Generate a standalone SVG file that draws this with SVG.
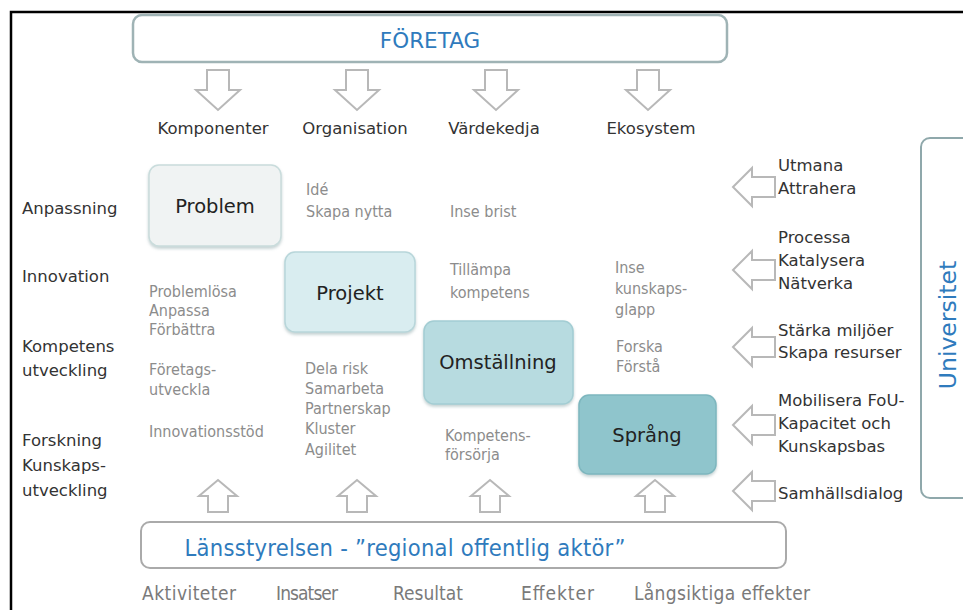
<svg xmlns="http://www.w3.org/2000/svg" width="963" height="610" viewBox="0 0 963 610">
<style>
.lbl{font-family:"DejaVu Sans",Verdana,sans-serif;fill:#333;font-size:16.5px}
.gr{font-family:"DejaVu Sans Condensed","DejaVu Sans",sans-serif;fill:#8c8c8c;font-size:16px}
.bt{font-family:"DejaVu Sans Condensed","DejaVu Sans",sans-serif;fill:#7a7a7a;font-size:19px}
.nd{font-family:"DejaVu Sans",Verdana,sans-serif;fill:#222;font-size:19.5px;text-anchor:middle}
.blue{font-family:"DejaVu Sans",Verdana,sans-serif;fill:#2f7bbd;text-anchor:middle}
.blc{font-family:"DejaVu Sans Condensed","DejaVu Sans",sans-serif;fill:#2f7bbd;text-anchor:middle}
.arr{fill:#fff;stroke:#b8b8b8;stroke-width:2;stroke-linejoin:miter}
.frame{fill:#fff;stroke:#9fb3b5;stroke-width:2.5}
</style>
<defs>
<filter id="sh" x="-10%" y="-10%" width="120%" height="130%">
<feDropShadow dx="0" dy="2" stdDeviation="1.5" flood-color="#7a9a9c" flood-opacity="0.45"/>
</filter>
<path id="down" d="M-11,0 H11 V20 H22 L0,40 L-22,20 H-11 Z"/>
<path id="up" d="M-10,0 V-16 H-19 L0,-32 L19,-16 H10 V0 Z"/>
<path id="left" d="M0,0 L19,-19 V-10 H42 V10 H19 V19 Z"/>
</defs>
<rect width="963" height="610" fill="#fff"/>
<path d="M11,610 V12 H963" fill="none" stroke="#000" stroke-width="2.5"/>

<g id="foretag">
<rect class="frame" x="133" y="15" width="594" height="47" rx="9"/>
<text class="blue" x="430" y="48" font-size="21.5px">FÖRETAG</text>
</g>

<g id="lansstyrelsen">
<rect x="141" y="522" width="645" height="46" rx="9" fill="#fff" stroke="#aaaaaa" stroke-width="2"/>
<text class="blc" x="405" y="556" font-size="23.5px" textLength="441">Länsstyrelsen - ”regional offentlig aktör”</text>
</g>

<g id="universitet">
<rect x="921" y="138" width="60" height="360" rx="9" fill="#fff" stroke="#8fa8ab" stroke-width="2"/>
<text class="blue" font-size="23.5px" transform="translate(956,325) rotate(-90)">Universitet</text>
</g>

<g id="connectors">
<use href="#down" class="arr" x="218" y="70"/>
<use href="#down" class="arr" x="357" y="70"/>
<use href="#down" class="arr" x="496" y="70"/>
<use href="#down" class="arr" x="648" y="70"/>
<use href="#up" class="arr" x="218" y="512"/>
<use href="#up" class="arr" x="357" y="512"/>
<use href="#up" class="arr" x="490" y="512"/>
<use href="#up" class="arr" x="655" y="512"/>
<use href="#left" class="arr" x="733" y="187"/>
<use href="#left" class="arr" x="733" y="270"/>
<use href="#left" class="arr" x="733" y="347"/>
<use href="#left" class="arr" x="733" y="425"/>
<use href="#left" class="arr" x="733" y="491"/>
</g>

<g id="columns">
<text class="lbl" x="213" y="134" text-anchor="middle">Komponenter</text>
<text class="lbl" x="355" y="134" text-anchor="middle">Organisation</text>
<text class="lbl" x="494" y="134" text-anchor="middle">Värdekedja</text>
<text class="lbl" x="651" y="134" text-anchor="middle">Ekosystem</text>
</g>

<g id="rows">
<text class="lbl" x="22" y="214">Anpassning</text>
<text class="lbl" x="22" y="282">Innovation</text>
<text class="lbl" x="22" y="352">Kompetens</text>
<text class="lbl" x="22" y="376">utveckling</text>
<text class="lbl" x="22" y="446">Forskning</text>
<text class="lbl" x="22" y="471">Kunskaps-</text>
<text class="lbl" x="22" y="496">utveckling</text>
</g>

<g id="problem">
<rect x="149" y="165" width="132" height="81" rx="10" fill="#f0f3f3" stroke="#c9dcdc" stroke-width="1.5" filter="url(#sh)"/>
<text class="nd" x="215" y="213">Problem</text>
</g>
<g id="projekt">
<rect x="285" y="252" width="130" height="80" rx="10" fill="#d9edf0" stroke="#b8d6da" stroke-width="1.5" filter="url(#sh)"/>
<text class="nd" x="350" y="300">Projekt</text>
</g>
<g id="omstallning">
<rect x="424" y="321" width="149" height="83" rx="10" fill="#b7dbe0" stroke="#a3cdd3" stroke-width="1.5" filter="url(#sh)"/>
<text class="nd" x="498" y="369">Omställning</text>
</g>
<g id="sprang">
<rect x="579" y="395" width="137" height="79" rx="10" fill="#8fc5cc" stroke="#7db6be" stroke-width="1.5" filter="url(#sh)"/>
<text class="nd" x="647" y="442">Språng</text>
</g>

<g id="activities">
<text class="gr" x="306" y="195">Idé</text>
<text class="gr" x="306" y="217">Skapa nytta</text>
<text class="gr" x="450" y="217">Inse brist</text>
<text class="gr" x="450" y="275">Tillämpa</text>
<text class="gr" x="450" y="298">kompetens</text>
<text class="gr" x="615" y="273">Inse</text>
<text class="gr" x="615" y="294">kunskaps-</text>
<text class="gr" x="615" y="315">glapp</text>
<text class="gr" x="149" y="297">Problemlösa</text>
<text class="gr" x="149" y="316">Anpassa</text>
<text class="gr" x="149" y="335">Förbättra</text>
<text class="gr" x="149" y="375">Företags-</text>
<text class="gr" x="149" y="395">utveckla</text>
<text class="gr" x="149" y="437">Innovationsstöd</text>
<text class="gr" x="305" y="374">Dela risk</text>
<text class="gr" x="305" y="394">Samarbeta</text>
<text class="gr" x="305" y="414">Partnerskap</text>
<text class="gr" x="305" y="434">Kluster</text>
<text class="gr" x="305" y="455">Agilitet</text>
<text class="gr" x="616" y="352">Forska</text>
<text class="gr" x="616" y="372">Förstå</text>
<text class="gr" x="445" y="441">Kompetens-</text>
<text class="gr" x="445" y="460">försörja</text>
</g>

<g id="university-roles">
<text class="lbl" x="778" y="171">Utmana</text>
<text class="lbl" x="778" y="194">Attrahera</text>
<text class="lbl" x="778" y="243">Processa</text>
<text class="lbl" x="778" y="266">Katalysera</text>
<text class="lbl" x="778" y="289">Nätverka</text>
<text class="lbl" x="778" y="336">Stärka miljöer</text>
<text class="lbl" x="778" y="358">Skapa resurser</text>
<text class="lbl" x="778" y="406">Mobilisera FoU-</text>
<text class="lbl" x="778" y="429">Kapacitet och</text>
<text class="lbl" x="778" y="452">Kunskapsbas</text>
<text class="lbl" x="778" y="499">Samhällsdialog</text>
</g>

<g id="outcomes">
<text class="bt" x="142" y="600" textLength="94">Aktiviteter</text>
<text class="bt" x="276" y="600" textLength="62">Insatser</text>
<text class="bt" x="393" y="600" textLength="70">Resultat</text>
<text class="bt" x="521" y="600" textLength="73">Effekter</text>
<text class="bt" x="634" y="600" textLength="176">Långsiktiga effekter</text>
</g>
</svg>
